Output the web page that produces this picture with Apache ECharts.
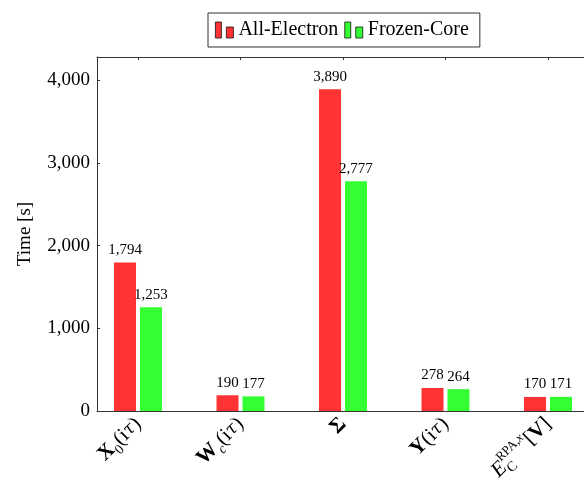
<!DOCTYPE html>
<html>
<head>
<meta charset="utf-8">
<script src="https://cdn.jsdelivr.net/npm/echarts@6/dist/echarts.min.js"></script>
<style>
  html, body { margin: 0; padding: 0; background: #fff; }
  #chart { width: 584px; height: 482px; }
</style>
</head>
<body>
<div id="chart"></div>
<script>
// Timing of each step, all-electron vs frozen-core
const categories = ['X0(iτ)', 'Wc(iτ)', 'Σ', 'Y(iτ)', 'E_C^RPA,x[V]'];
// rich-text versions of the category names (bold matrices, sub/superscripts)
const categoryLabels = [
  '{b|X}{sub|0}{n|(i}{tau|τ}{n|)}',
  '{b|W}{subi|c}{n|(i}{tau|τ}{n|)}',
  '{b|Σ}',
  '{b|Y}{n|(i}{tau|τ}{n|)}',
  '{it|E}{subz|C}{sup|RPA,}{supi|x}{n|[}{b|V}{n|]}'
];
const seriesNames = ['All-Electron', 'Frozen-Core'];
const allElectron = [1794, 190, 3890, 278, 170];
const frozenCore = [1253, 177, 2777, 264, 171];
const yTicks = [0, 1000, 2000, 3000, 4000];
const categoryPos = categories.map((_, i) => i);

const FONT = 'Liberation Serif';
const fmt = v => Number(v).toLocaleString('en-US');

const base = { fontFamily: FONT, fontSize: 21, color: '#000', lineHeight: 29, align: 'left' };
const small = { fontFamily: FONT, fontSize: 14, color: '#000', align: 'left' };
const rich = {
  n: { ...base },
  b: { ...base, fontWeight: 'bold' },
  it: { ...base, fontStyle: 'italic' },
  tau: { ...base, fontFamily: 'DejaVu Serif', fontSize: 18, fontStyle: 'italic' },
  sub: { ...small, verticalAlign: 'bottom' },
  subi: { ...small, fontStyle: 'italic', verticalAlign: 'bottom' },
  subz: { ...small, verticalAlign: 'bottom', width: 0 },
  sup: { ...small, fontSize: 13, verticalAlign: 'top' },
  supi: { ...small, fontSize: 13, fontStyle: 'italic', verticalAlign: 'top' }
};

const xMin = -0.4, xMax = categories.length - 1 + 0.4;
const lineStyle = { color: '#333', width: 1 };

const chart = echarts.init(document.getElementById('chart'), null, { renderer: 'canvas' });
chart.setOption({
  animation: false,
  backgroundColor: '#fff',
  grid: { left: 97, right: -5, top: 57, bottom: 71, outerBoundsMode: 'none' },
  legend: {
    data: seriesNames,
    left: 208,
    top: 13,
    orient: 'horizontal',
    padding: [7, 11, 7, 7],
    itemGap: 6,
    itemWidth: 18,
    itemHeight: 16,
    icon: 'path://M0,0H6V16H0Z M11,5H18V16H11Z',
    itemStyle: { borderColor: '#111', borderWidth: 0.8 },
    borderColor: '#333',
    borderWidth: 1,
    backgroundColor: '#fff',
    textStyle: { fontFamily: FONT, fontSize: 20, color: '#000' }
  },
  xAxis: [
    {
      type: 'value',
      position: 'bottom',
      min: xMin,
      max: xMax,
      splitLine: { show: false },
      axisLine: { show: true, onZero: false, lineStyle },
      axisTick: { show: false },
      axisLabel: {
        customValues: categoryPos,
        rotate: 45,
        margin: 10,
        formatter: v => categoryLabels[Math.round(v)],
        rich
      }
    },
    {
      type: 'value',
      position: 'top',
      min: xMin,
      max: xMax,
      splitLine: { show: false },
      axisLine: { show: true, onZero: false, lineStyle },
      axisTick: { show: true, inside: true, length: 3, customValues: categoryPos, lineStyle },
      axisLabel: { show: false }
    }
  ],
  yAxis: {
    type: 'value',
    position: 'left',
    min: 0,
    max: Math.max(...allElectron) * 1.1,
    interval: 1000,
    name: 'Time [s]',
    nameLocation: 'middle',
    nameGap: 62,
    nameTextStyle: { fontFamily: FONT, fontSize: 19, color: '#000' },
    splitLine: { show: false },
    axisLine: { show: true, onZero: false, lineStyle },
    axisTick: { show: true, inside: true, length: 3, lineStyle },
    axisLabel: {
      customValues: yTicks,
      margin: 7,
      fontFamily: FONT,
      fontSize: 19,
      color: '#000',
      formatter: v => fmt(v)
    }
  },
  series: [
    {
      name: seriesNames[0],
      type: 'bar',
      xAxisIndex: 0,
      barWidth: 22,
      barGap: '18%',
      itemStyle: { color: '#ff3333' },
      label: {
        show: true, position: 'top', distance: 5,
        fontFamily: FONT, fontSize: 15, color: '#000',
        formatter: p => fmt(p.value[1])
      },
      data: allElectron.map((v, i) => [categoryPos[i], v])
    },
    {
      name: seriesNames[1],
      type: 'bar',
      xAxisIndex: 0,
      barWidth: 22,
      barGap: '18%',
      itemStyle: { color: '#33ff33' },
      label: {
        show: true, position: 'top', distance: 5,
        fontFamily: FONT, fontSize: 15, color: '#000',
        formatter: p => fmt(p.value[1])
      },
      data: frozenCore.map((v, i) => [categoryPos[i], v])
    }
  ]
});
</script>
</body>
</html>
